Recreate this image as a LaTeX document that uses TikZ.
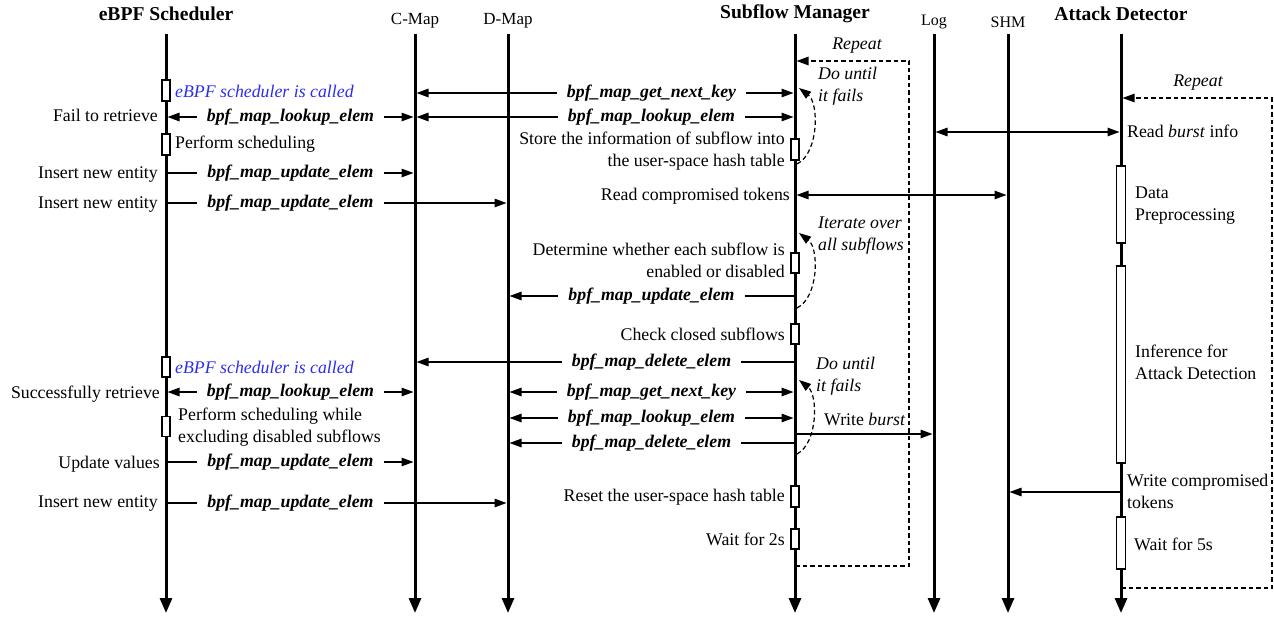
\documentclass[tikz,border=0pt]{standalone}
\usepackage{fontspec}
\setmainfont{Liberation Serif}
\usetikzlibrary{arrows.meta,calc}
\definecolor{callblue}{RGB}{45,45,235}
\begin{document}
\begin{tikzpicture}[x=1pt,y=-1pt,
  every node/.style={inner sep=0pt},
  font=\fontsize{17.8}{22}\selectfont,
  title/.style={font=\fontsize{19.6}{23}\selectfont\bfseries},
  obj/.style={font=\fontsize{17}{20}\selectfont},
  objs/.style={font=\fontsize{16}{19}\selectfont},
  life/.style={line width=3pt,-{Triangle[length=15pt,width=12pt]}},
  msg/.style={line width=1.3pt,shorten >=1.5pt,shorten <=1.5pt},
  tip/.style={-{Triangle[length=12pt,width=8.5pt]}},
  both/.style={{Triangle[length=12pt,width=8.5pt]}-{Triangle[length=12pt,width=8.5pt]}},
  fn/.style={fill=white,inner xsep=10pt,inner ysep=2pt,font=\fontsize{17.8}{22}\selectfont\bfseries\itshape},
  act/.style={draw,line width=1.1pt,fill=white,minimum width=8pt,inner sep=0pt},
  loopline/.style={line width=1.2pt,dash pattern=on 4.5pt off 3pt,shorten >=1.5pt},
  itl/.style={font=\fontsize{17.8}{22}\selectfont\itshape},
  call/.style={font=\fontsize{17.8}{22}\selectfont\itshape,text=callblue},
]
\useasboundingbox (0,0) rectangle (1274,618);

% lifeline x positions
\coordinate (eb) at (166,0);
\coordinate (cm) at (415,0);
\coordinate (dm) at (508,0);
\coordinate (sm) at (795,0);
\coordinate (lg) at (934,0);
\coordinate (sh) at (1008,0);
\coordinate (ad) at (1121,0);
\coordinate (top) at (0,34);
\coordinate (bot) at (0,613);

% titles
\node[title] (ebT) at (166,14) {eBPF Scheduler};
\node[obj] (cmT) at (415,21) {C-Map};
\node[obj] (dmT) at (508,21) {D-Map};
\node[title] (smT) at (795,14) {Subflow Manager};
\node[objs] (lgT) at (934,22) {Log};
\node[objs] (shT) at (1008,22) {SHM};
\node[title] (adT) at (1121,14) {Attack Detector};

% lifelines
\foreach \l in {eb,cm,dm,sm,lg,sh,ad}{
  \draw[life] (\l|-top) -- (\l|-bot);
}

% message rows
\coordinate (ya) at (0,93);
\coordinate (yb) at (0,117);
\coordinate (yc) at (0,173);
\coordinate (yd) at (0,203);
\coordinate (ye) at (0,195);
\coordinate (yf) at (0,132);
\coordinate (yg) at (0,296);
\coordinate (yh) at (0,362);
\coordinate (yi) at (0,392);
\coordinate (yj) at (0,418);
\coordinate (yk) at (0,443);
\coordinate (yl) at (0,462);
\coordinate (ym) at (0,503);
\coordinate (yn) at (0,434);
\coordinate (yo) at (0,492);

% repeat loops
\coordinate (p1) at (909,61);
\coordinate (p2) at (909,566);
\draw[loopline,tip] (sm|-p2) -- (p2) -- (p1) -- (sm|-p1);
\coordinate (q1) at (1272,98);
\coordinate (q2) at (1272,588);
\draw[loopline,tip] (ad|-q2) -- (q2) -- (q1) -- (ad|-q1);

% messages
\draw[msg,both] (sm|-ya) -- (cm|-ya);
\node[fn] (f1) at ($(dm|-ya)!.5!(sm|-ya)$) {bpf\_map\_get\_next\_key};
\draw[msg,both] (eb|-yb) -- node[fn] (f2) {bpf\_map\_lookup\_elem} (cm|-yb);
\draw[msg,both] (cm|-yb) -- (sm|-yb);
\node[fn] (f3) at ($(dm|-yb)!.5!(sm|-yb)$) {bpf\_map\_lookup\_elem};
\draw[msg,tip] (eb|-yc) -- node[fn] (f4) {bpf\_map\_update\_elem} (cm|-yc);
\draw[msg,tip] (eb|-yd) -- (dm|-yd);
\node[fn] (f5) at ($(eb|-yd)!.5!(cm|-yd)$) {bpf\_map\_update\_elem};
\draw[msg,both] (sm|-ye) -- (sh|-ye);
\draw[msg,both] (lg|-yf) -- (ad|-yf);
\draw[msg,tip] (sm|-yg) -- node[fn] (f6) {bpf\_map\_update\_elem} (dm|-yg);
\draw[msg,tip] (sm|-yh) -- (cm|-yh);
\node[fn] (f7) at ($(dm|-yh)!.5!(sm|-yh)$) {bpf\_map\_delete\_elem};
\draw[msg,both] (eb|-yi) -- node[fn] (f8) {bpf\_map\_lookup\_elem} (cm|-yi);
\draw[msg,both] (dm|-yi) -- node[fn] (f9) {bpf\_map\_get\_next\_key} (sm|-yi);
\draw[msg,both] (dm|-yj) -- node[fn] (f10) {bpf\_map\_lookup\_elem} (sm|-yj);
\draw[msg,tip] (sm|-yk) -- node[fn] (f11) {bpf\_map\_delete\_elem} (dm|-yk);
\draw[msg,tip] (eb|-yl) -- node[fn] (f12) {bpf\_map\_update\_elem} (cm|-yl);
\draw[msg,tip] (eb|-ym) -- (dm|-ym);
\node[fn] (f13) at ($(eb|-ym)!.5!(cm|-ym)$) {bpf\_map\_update\_elem};
\draw[msg,tip] (sm|-yn) -- (lg|-yn);
\draw[msg,tip] (ad|-yo) -- (sh|-yo);

% loop-back curves
\coordinate (c1s) at (797,164);
\coordinate (c1e) at (799,88);
\draw[loopline,tip,shorten >=0pt] (c1s) .. controls (819,153) and (819,103) .. (c1e);
\coordinate (c2s) at (797,308);
\coordinate (c2e) at (799,233);
\draw[loopline,tip,shorten >=0pt] (c2s) .. controls (819,297) and (819,248) .. (c2e);
\coordinate (c3s) at (797,454);
\coordinate (c3e) at (799,380);
\draw[loopline,tip,shorten >=0pt] (c3s) .. controls (818,443) and (818,395) .. (c3e);

% activation boxes: eBPF scheduler
\node[act,minimum height=21pt] (ea1) at (166,90.5) {};
\node[act,minimum height=21pt] (ea2) at (166,144.5) {};
\node[act,minimum height=20pt] (ea3) at (166,367) {};
\node[act,minimum height=20pt] (ea4) at (166,426.5) {};
% subflow manager
\node[act,minimum height=21pt] (sa1) at (795,149.5) {};
\node[act,minimum height=20pt] (sa2) at (795,263) {};
\node[act,minimum height=20pt] (sa3) at (795,334) {};
\node[act,minimum height=21pt] (sa4) at (795,496.5) {};
\node[act,minimum height=20pt] (sa5) at (795,539) {};
% attack detector
\node[act,minimum width=9pt,minimum height=77pt] (aa1) at (1121,204.5) {};
\node[act,minimum width=9pt,minimum height=197pt] (aa2) at (1121,364.5) {};
\node[act,minimum width=9pt,minimum height=52pt] (aa3) at (1121,543) {};

% texts: eBPF scheduler side
\node[call,anchor=west] (t0) at (175,91) {eBPF scheduler is called};
\node[anchor=east] (t1) at (158,115) {Fail to retrieve};
\node[anchor=west] (t2) at (175,144) {Perform scheduling};
\node[anchor=east] (t3) at (158,175) {Insert new entity};
\node[anchor=east] (t4) at (158,205) {Insert new entity};
\node[call,anchor=west] (t5) at (175,367) {eBPF scheduler is called};
\node[anchor=east] (t6) at (160,394) {Successfully retrieve};
\node[anchor=west,align=left] (t7) at (178,427) {Perform scheduling while\\excluding disabled subflows};
\node[anchor=east] (t8) at (160,464) {Update values};
\node[anchor=east] (t9) at (158,504) {Insert new entity};

% texts: subflow manager side
\node[anchor=east,align=right] (s1) at (785,151) {Store the information of subflow into\\the user-space hash table};
\node[anchor=east] (s2) at (790,196.5) {Read compromised tokens};
\node[anchor=east,align=right] (s3) at (785,260.5) {Determine whether each subflow is\\enabled or disabled};
\node[anchor=east] (s4) at (785,334) {Check closed subflows};
\node[anchor=east] (s5) at (785,497.5) {Reset the user-space hash table};
\node[anchor=east] (s6) at (785,539) {Wait for 2s};
\node[itl] (r1) at (857,46) {Repeat};
\node[itl,anchor=west,align=left] (d1) at (818,86) {Do until\\it fails};
\node[itl,anchor=west,align=left] (d2) at (818,235.5) {Iterate over\\all subflows};
\node[itl,anchor=west,align=left] (d3) at (816,376) {Do until\\it fails};
\node[anchor=west] (wb) at (824,419) {Write \textit{burst}};

% texts: attack detector side
\node[itl] (r2) at (1198,83) {Repeat};
\node[anchor=west] (a1) at (1127,131) {Read \textit{burst} info};
\node[anchor=west,align=left] (a2) at (1135,205.5) {Data\\Preprocessing};
\node[anchor=west,align=left] (a3) at (1135,362) {Inference for\\Attack Detection};
\node[anchor=west,align=left] (a4) at (1127,491.5) {Write compromised\\tokens};
\node[anchor=west] (a5) at (1134,544) {Wait for 5s};
\end{tikzpicture}
\end{document}
